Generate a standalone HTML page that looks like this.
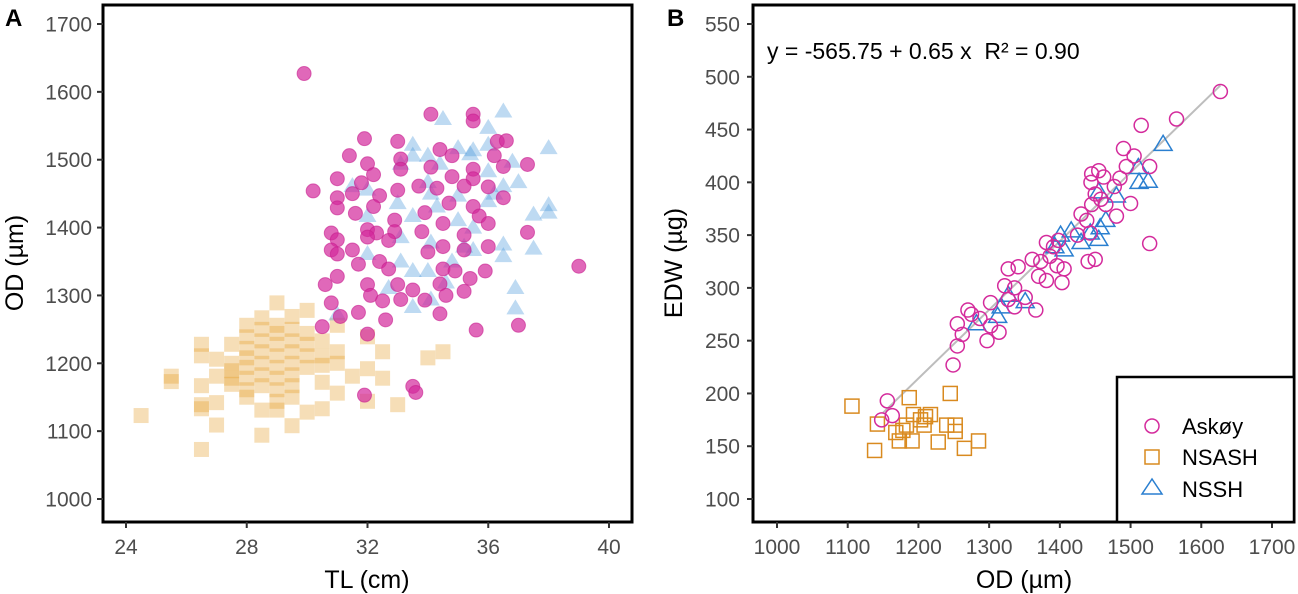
<!DOCTYPE html>
<html><head><meta charset="utf-8"><style>
body{margin:0;background:#fff;}
svg{display:block;font-family:"Liberation Sans",Arial,sans-serif;}
</style></head><body>
<svg id="chart" width="1298" height="594" xmlns="http://www.w3.org/2000/svg">
<g id="panelA"></g>
<g id="panelB"></g>
</svg>
<script>
// ---- Panel A data (TL cm, OD µm)
const askoyTL=[29.9,34.1,35.5,35.5,31.9,33.0,36.3,36.6,31.4,34.4,34.8,33.1,32.0,36.2,36.5,37.3,33.1,34.1,35.5,32.2,31.0,34.8,35.5,30.2,31.8,34.3,35.2,36.0,31.5,31.0,32.4,33.0,33.7,36.5,31.0,32.2,34.7,35.5,31.6,32.9,33.9,35.7,32.0,32.3,32.9,33.8,34.5,36.0,37.3,30.8,31.0,32.0,32.7,35.2,30.8,31.5,34.0,34.5,35.2,36.0,31.0,31.7,32.4,32.7,34.5,34.9,35.4,35.9,39.0,31.0,30.6,32.0,33.0,34.4,35.2,33.5,32.1,32.5,33.1,33.9,34.6,30.8,31.1,31.7,32.6,34.4,30.5,32.0,35.6,37.0,31.9,33.5,33.6];
const askoyOD=[1627,1567,1567,1557,1531,1527,1527,1528,1506,1515,1506,1501,1494,1506,1490,1493,1486,1489,1486,1478,1472,1475,1472,1454,1466,1458,1461,1460,1450,1444,1447,1455,1461,1444,1429,1431,1436,1431,1421,1411,1422,1417,1397,1392,1394,1394,1406,1406,1393,1392,1382,1386,1381,1389,1367,1367,1364,1372,1367,1372,1361,1346,1350,1339,1339,1336,1325,1336,1343,1328,1316,1316,1316,1317,1306,1308,1300,1292,1294,1293,1300,1289,1269,1275,1264,1273,1254,1243,1249,1256,1153,1166,1157];
const nsshTL=[36.5,34.5,36.0,38.0,33.5,35.5,36.0,35.0,33.5,34.0,35.4,36.8,33.1,34.4,31.5,34.0,36.0,36.5,37.0,32.0,34.1,35.0,36.0,38.0,37.5,38.0,33.0,33.5,34.3,35.5,35.0,36.2,32.0,33.1,36.5,37.5,36.5,32.0,33.1,33.5,34.0,34.8,35.5,35.2,34.1,36.9,36.9,33.5,34.1,34.6,32.7,31.0];
const nsshOD=[1571,1560,1547,1517,1522,1514,1522,1517,1506,1506,1508,1497,1494,1494,1461,1467,1483,1461,1467,1456,1450,1447,1439,1433,1419,1422,1436,1417,1431,1400,1411,1450,1417,1386,1375,1369,1358,1361,1350,1336,1336,1350,1367,1372,1378,1311,1281,1283,1294,1319,1311,1272];
const nsashTL=[24.5,25.5,25.5,26.5,26.5,26.5,26.5,26.5,26.5,27,27,27,27,27.5,27.5,27.5,27.5,27.5,28,28,28,28,28,28,28,28,28.5,28.5,28.5,28.5,28.5,28.5,28.5,28.5,28.5,29,29,29,29,29,29,29,29,29,29,29.5,29.5,29.5,29.5,29.5,29.5,29.5,29.5,29.5,30,30,30,30,30,30,30.5,30.5,30.5,30.5,30.5,31,31,31,31,31.5,32,32,32,32.5,32.5,33,34,34.5];
const nsashOD=[1123,1181,1173,1228,1211,1167,1139,1133,1073,1206,1181,1142,1109,1228,1200,1189,1178,1169,1256,1239,1222,1208,1194,1178,1161,1150,1267,1250,1233,1217,1200,1183,1167,1131,1094,1289,1256,1244,1228,1211,1194,1178,1161,1144,1131,1269,1250,1233,1217,1200,1183,1167,1150,1108,1278,1244,1228,1211,1194,1128,1233,1211,1197,1172,1133,1256,1217,1200,1156,1181,1239,1192,1144,1217,1178,1139,1208,1217];
const aXTicks=[24,28,32,36,40];
const aYTicks=[1000,1100,1200,1300,1400,1500,1600,1700];
// ---- Panel B data (OD µm, EDW µg)
const bAskoyOD=[1627,1565,1515,1490,1505,1527,1494,1485,1477,1500,1527,1445,1455,1462,1444,1450,1458,1445,1465,1480,1430,1438,1425,1443,1440,1450,1381,1391,1398,1386,1396,1406,1403,1381,1370,1361,1373,1327,1341,1322,1336,1351,1327,1366,1336,1270,1275,1302,1287,1302,1314,1297,1255,1262,1255,1249,1156,1148,1163];
const bAskoyEDW=[486,460,454,432,425,415,415,404,396,380,342,408,411,405,400,389,384,379,379,368,370,364,350,352,325,327,343,339,345,330,321,318,305,307,311,327,325,318,320,302,300,291,289,279,282,279,275,286,271,264,258,250,266,256,245,227,193,175,179];
const bNsshOD=[1546,1511,1525,1512,1455,1480,1465,1457,1455,1443,1430,1401,1416,1393,1406,1351,1327,1317,1282,1312];
const bNsshEDW=[436,414,401,400,391,387,364,357,346,352,343,350,354,339,336,287,293,282,266,273];
const bNsashOD=[1106,1245,1187,1142,1138,1217,1193,1203,1208,1183,1168,1173,1191,1228,1240,1252,1252,1265,1285,1178,1210];
const bNsashEDW=[188,200,196,171,146,180,180,175,170,170,163,155,155,154,170,170,164,148,155,165,178];
const bXTicks=[1000,1100,1200,1300,1400,1500,1600,1700];
const bYTicks=[100,150,200,250,300,350,400,450,500,550];
const fitIntercept=-565.75, fitSlope=0.65, fitRange=[1150,1627];

const NS="http://www.w3.org/2000/svg";
function el(tag,attrs,parent,text){const e=document.createElementNS(NS,tag);for(const k in attrs)e.setAttribute(k,attrs[k]);if(text!==undefined)e.textContent=text;parent.appendChild(e);return e;}

const ax=v=>126+(v-24)*(609-126)/16, ay=v=>499-(v-1000)*(499-24)/700;
const bx=v=>777+(v-1000)*(1272-777)/700, by=v=>499-(v-100)*(499-24)/450;

const A=document.getElementById('panelA'), B=document.getElementById('panelB');
const tickCol="#4d4d4d", TF=21;

nsashTL.forEach((t,i)=>{const r=el('rect',{x:ax(t)-7.5,y:ay(nsashOD[i])-7.5,width:15,height:15,fill:'#e39b25','fill-opacity':0.33},A);

});
nsshTL.forEach((t,i)=>{const x=ax(t),y=ay(nsshOD[i]);const p=el('polygon',{points:`${x},${y-9} ${x-9},${y+6} ${x+9},${y+6}`,fill:'#3a8fd9','fill-opacity':0.33},A);

});
askoyTL.forEach((t,i)=>{const c=el('circle',{cx:ax(t),cy:ay(askoyOD[i]),r:7,fill:'#d3289b','fill-opacity':0.7,stroke:'#c81f8f','stroke-opacity':0.6},A);

});
el('rect',{x:103,y:5,width:529,height:517,fill:'none',stroke:'#000','stroke-width':3},A);
aXTicks.forEach(v=>{el('line',{x1:ax(v),x2:ax(v),y1:522,y2:528,stroke:'#333','stroke-width':2},A);
const t=el('text',{x:ax(v),y:554,'font-size':TF,fill:tickCol,'text-anchor':'middle'},A,v);

});
aYTicks.forEach(v=>{el('line',{x1:97,x2:103,y1:ay(v),y2:ay(v),stroke:'#333','stroke-width':2},A);
const t=el('text',{x:92,y:ay(v)+7.5,'font-size':TF,fill:tickCol,'text-anchor':'end'},A,v);

});
const tA=el('text',{x:367,y:588,'font-size':25,'text-anchor':'middle'},A,'TL (cm)');


const yA=el('text',{x:0,y:0,'font-size':25,'text-anchor':'middle',transform:'translate(23,263) rotate(-90)'},A,'OD (µm)');


const lA=el('text',{x:5,y:26,'font-size':24,'font-weight':'bold'},A,'A');



const fl=el('line',{x1:bx(fitRange[0]),y1:by(fitIntercept+fitSlope*fitRange[0]),x2:bx(fitRange[1]),y2:by(fitIntercept+fitSlope*fitRange[1]),stroke:'#bdbdbd','stroke-width':2},B);


bNsashOD.forEach((o,i)=>{const r=el('rect',{x:bx(o)-7,y:by(bNsashEDW[i])-7,width:14,height:14,fill:'none',stroke:'#d98a1f','stroke-width':1.5},B);

});
bNsshOD.forEach((o,i)=>{const x=bx(o),y=by(bNsshEDW[i]);const p=el('polygon',{points:`${x},${y-9} ${x-9},${y+6} ${x+9},${y+6}`,fill:'none',stroke:'#2a7fd0','stroke-width':1.5},B);

});
bAskoyOD.forEach((o,i)=>{const c=el('circle',{cx:bx(o),cy:by(bAskoyEDW[i]),r:7,fill:'none',stroke:'#d42b9c','stroke-width':1.5},B);

});
el('rect',{x:753,y:5,width:541,height:517,fill:'none',stroke:'#000','stroke-width':3},B);
bXTicks.forEach(v=>{el('line',{x1:bx(v),x2:bx(v),y1:522,y2:528,stroke:'#333','stroke-width':2},B);
const t=el('text',{x:bx(v),y:554,'font-size':TF,fill:tickCol,'text-anchor':'middle'},B,v);

});
bYTicks.forEach(v=>{el('line',{x1:747,x2:753,y1:by(v),y2:by(v),stroke:'#333','stroke-width':2},B);
const t=el('text',{x:740,y:by(v)+7.5,'font-size':TF,fill:tickCol,'text-anchor':'end'},B,v);

});
const tB=el('text',{x:1024,y:588,'font-size':25,'text-anchor':'middle'},B,'OD (µm)');


const yB=el('text',{x:0,y:0,'font-size':25,'text-anchor':'middle',transform:'translate(682,263) rotate(-90)'},B,'EDW (µg)');


const lB=el('text',{x:667,y:26,'font-size':24,'font-weight':'bold'},B,'B');


const eq=el('text',{x:767,y:59,'font-size':23,style:'white-space:pre'},B,'y = -565.75 + 0.65 x  R² = 0.90');


const lg=el('g',{},B);


el('rect',{x:1117,y:377,width:177,height:145,fill:'#fff',stroke:'#000','stroke-width':2.5},lg);
const e1=el('g',{},lg);


el('circle',{cx:1152,cy:426,r:7,fill:'none',stroke:'#d42b9c','stroke-width':1.5},e1);
el('text',{x:1182,y:434,'font-size':22},e1,'Askøy');
const e2=el('g',{},lg);


el('rect',{x:1145,y:450,width:14,height:14,fill:'none',stroke:'#d98a1f','stroke-width':1.5},e2);
el('text',{x:1182,y:465,'font-size':22},e2,'NSASH');
const e3=el('g',{},lg);


el('polygon',{points:'1152,479 1142,494 1162,494',fill:'none',stroke:'#2a7fd0','stroke-width':1.5},e3);
el('text',{x:1182,y:497,'font-size':22},e3,'NSSH');
</script>
</body></html>
